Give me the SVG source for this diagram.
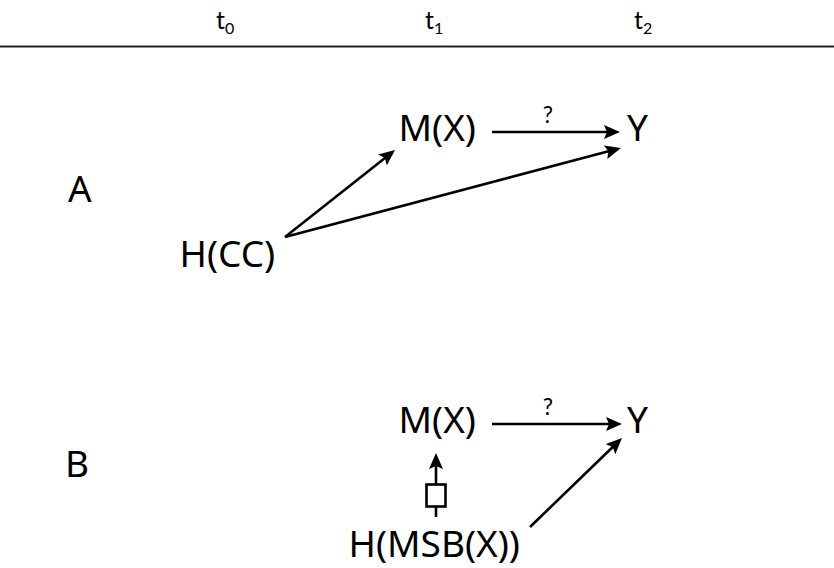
<svg xmlns="http://www.w3.org/2000/svg" width="834" height="568" viewBox="0 0 834 568">
<style>
.lbl{font-family:"Noto Sans","DejaVu Sans",sans-serif;font-size:37px;fill:#000}
.hdr{font-family:Lato,"Open Sans",sans-serif;font-size:25px;fill:#000}
.sub{font-size:16px}
.q{font-family:Lato,"Open Sans",sans-serif;font-size:23px;fill:#000;text-anchor:middle}
.arr{stroke:#000;stroke-width:2.6;fill:none;marker-end:url(#ah)}
</style>
<defs>
<marker id="ah" viewBox="0 0 16 14" refX="6" refY="7" markerWidth="16" markerHeight="14" markerUnits="userSpaceOnUse" orient="auto">
<path d="M0,0 L16,7 L0,14 L3,7 z" fill="#000"/>
</marker>
</defs>
<g id="header">
<line x1="0" y1="46.5" x2="834" y2="46.5" stroke="#222" stroke-width="2"/>
<text class="hdr" x="216" y="29">t<tspan class="sub" dy="5">0</tspan></text>
<text class="hdr" x="425" y="29">t<tspan class="sub" dy="5">1</tspan></text>
<text class="hdr" x="634" y="29">t<tspan class="sub" dy="5">2</tspan></text>
</g>
<g id="labelA"><text class="lbl" x="68" y="202">A</text></g>
<g id="labelB"><text class="lbl" x="65" y="477">B</text></g>
<g id="A_MX"><text class="lbl" x="398.5" y="141">M(X)</text></g>
<g id="A_Y"><text class="lbl" x="627" y="141">Y</text></g>
<g id="A_HCC"><text class="lbl" x="179.5" y="267">H(CC)</text></g>
<g id="B_MX"><text class="lbl" x="398.5" y="433">M(X)</text></g>
<g id="B_Y"><text class="lbl" x="627" y="433">Y</text></g>
<g id="B_HMSB"><text class="lbl" x="348.5" y="557">H(MSB(X))</text></g>
<g id="connectors">
<line class="arr" x1="492" y1="132" x2="610" y2="132"/>
<text class="q" x="548" y="123">?</text>
<line class="arr" x1="285" y1="237" x2="611.3" y2="150.6"/>
<line class="arr" x1="285" y1="237" x2="387.2" y2="156.2"/>
<line class="arr" x1="492" y1="424" x2="612" y2="424"/>
<text class="q" x="548" y="415">?</text>
<line class="arr" x1="530" y1="527" x2="614.8" y2="445"/>
<line class="arr" x1="436" y1="517" x2="436" y2="463"/>
<rect x="426.5" y="484.5" width="19" height="22" fill="#fff" stroke="#000" stroke-width="2.6"/>
</g>
</svg>
